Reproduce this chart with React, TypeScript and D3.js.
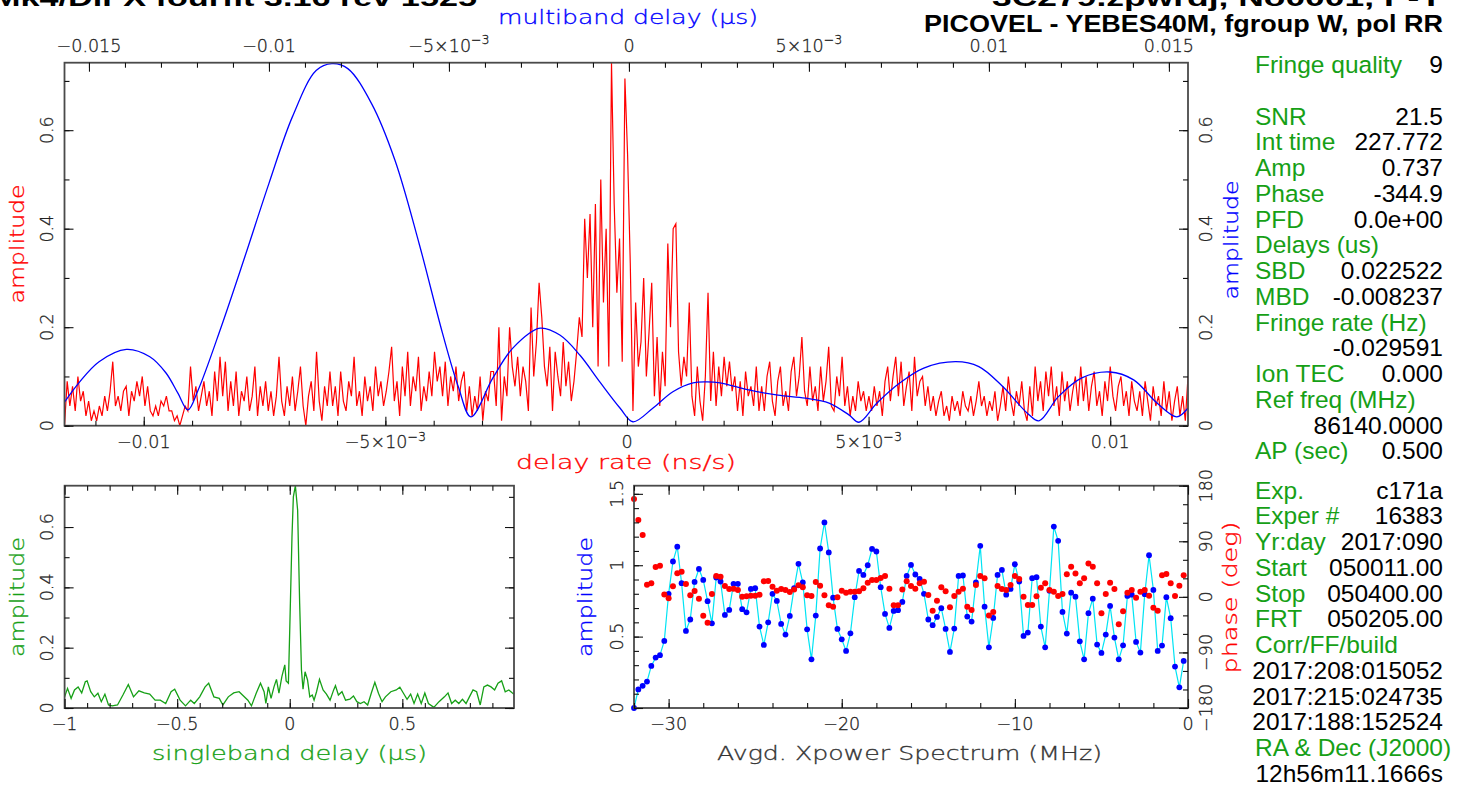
import { useEffect, useRef } from 'react'
import * as d3 from 'd3'

const W = 1462
const H = 790

// delay-rate spectrum (red), evenly sampled across the rate window (ns/s)
const rateRange = [-0.01164, 0.01161]
const rateAmp = [
  0.00, 0.09, 0.04, 0.08, 0.03, 0.10, 0.05, 0.07, 0.02, 0.05, 0.01, 0.03, 0.01, 0.04, 0.02, 0.06, 0.03, 0.07, 0.13, 0.04,
  0.06, 0.03, 0.07, 0.08, 0.02, 0.07, 0.05, 0.09, 0.06, 0.10, 0.04, 0.08, 0.03, 0.02, 0.04, 0.02, 0.05, 0.04, 0.06, 0.03,
  0.03, 0.01, 0.02, 0.00, 0.02, 0.04, 0.03, 0.12, 0.05, 0.08, 0.03, 0.06, 0.09, 0.04, 0.07, 0.02, 0.11, 0.05, 0.14, 0.06,
  0.13, 0.03, 0.09, 0.04, 0.11, 0.02, 0.07, 0.05, 0.10, 0.03, 0.06, 0.12, 0.02, 0.08, 0.04, 0.09, 0.03, 0.07, 0.02, 0.06,
  0.14, 0.05, 0.02, 0.08, 0.04, 0.10, 0.03, 0.07, 0.12, 0.04, 0.00, 0.06, 0.09, 0.03, 0.15, 0.05, 0.01, 0.08, 0.04, 0.11,
  0.04, 0.08, 0.02, 0.11, 0.05, 0.03, 0.09, 0.06, 0.14, 0.04, 0.07, 0.02, 0.10, 0.05, 0.08, 0.03, 0.12, 0.06, 0.09, 0.04,
  0.07, 0.11, 0.16, 0.05, 0.09, 0.02, 0.12, 0.06, 0.15, 0.04, 0.10, 0.07, 0.14, 0.03, 0.08, 0.05, 0.11, 0.06, 0.15, 0.09,
  0.12, 0.06, 0.13, 0.04, 0.10, 0.07, 0.12, 0.05, 0.09, 0.11, 0.03, 0.08, 0.02, 0.06, 0.03, 0.10, 0.01, 0.07, 0.05, 0.11,
  0.11, 0.04, 0.20, 0.01, 0.10, 0.06, 0.20, 0.12, 0.08, 0.14, 0.06, 0.12, 0.09, 0.03, 0.24, 0.10, 0.17, 0.29, 0.22, 0.12,
  0.08, 0.16, 0.03, 0.15, 0.10, 0.06, 0.17, 0.08, 0.13, 0.05, 0.09, 0.15, 0.22, 0.18, 0.42, 0.30, 0.43, 0.20, 0.45, 0.12,
  0.50, 0.25, 0.40, 0.12, 0.737, 0.45, 0.27, 0.38, 0.13, 0.705, 0.55, 0.33, 0.03, 0.25, 0.12, 0.17, 0.30, 0.10, 0.19, 0.29,
  0.06, 0.18, 0.04, 0.15, 0.08, 0.37, 0.20, 0.40, 0.41, 0.15, 0.08, 0.14, 0.10, 0.25, 0.06, 0.02, 0.12, 0.05, 0.01, 0.10,
  0.27, 0.05, 0.15, 0.04, 0.12, 0.06, 0.14, 0.08, 0.13, 0.07, 0.10, 0.03, 0.09, 0.02, 0.11, 0.06, 0.08, 0.04, 0.12, 0.03,
  0.08, 0.03, 0.10, 0.13, 0.05, 0.02, 0.09, 0.12, 0.04, 0.07, 0.03, 0.11, 0.14, 0.06, 0.10, 0.18, 0.07, 0.04, 0.12, 0.05,
  0.08, 0.03, 0.12, 0.05, 0.09, 0.16, 0.04, 0.03, 0.10, 0.06, 0.14, 0.04, 0.08, 0.02, 0.06, 0.03, 0.09, 0.05, 0.07, 0.03,
  0.06, 0.03, 0.08, 0.04, 0.07, 0.02, 0.09, 0.12, 0.05, 0.10, 0.14, 0.06, 0.13, 0.04, 0.08, 0.11, 0.03, 0.14, 0.06, 0.09,
  0.10, 0.04, 0.08, 0.03, 0.06, 0.02, 0.05, 0.07, 0.02, 0.04, 0.01, 0.06, 0.03, 0.05, 0.02, 0.07, 0.04, 0.03, 0.06, 0.02,
  0.05, 0.09, 0.04, 0.06, 0.02, 0.05, 0.03, 0.07, 0.01, 0.04, 0.08, 0.03, 0.10, 0.05, 0.02, 0.07, 0.04, 0.09, 0.03, 0.01,
  0.08, 0.02, 0.12, 0.05, 0.09, 0.03, 0.11, 0.06, 0.12, 0.04, 0.08, 0.02, 0.11, 0.05, 0.09, 0.03, 0.07, 0.10, 0.04, 0.12,
  0.05, 0.10, 0.03, 0.08, 0.11, 0.04, 0.07, 0.02, 0.09, 0.05, 0.12, 0.06, 0.03, 0.08, 0.10, 0.04, 0.07, 0.02, 0.09, 0.05,
  0.03, 0.07, 0.02, 0.09, 0.05, 0.01, 0.08, 0.04, 0.06, 0.02, 0.09, 0.03, 0.07, 0.01, 0.05, 0.08, 0.02, 0.06, 0.01, 0.10,
]

// multiband delay function (blue)
const mbdRange = [-0.01568, 0.01553]
const mbdDelay = [
  -0.01568, -0.01528, -0.01472, -0.01396, -0.01331, -0.01286, -0.01253, -0.01225, -0.01197, -0.01133,
  -0.01067, -0.01, -0.00935, -0.00869, -0.00825, -0.00781, -0.00715, -0.0065, -0.00583, -0.00518,
  -0.00474, -0.00439, -0.00378, -0.00322, -0.00247, -0.00192, -0.00136, -0.00081, -0.00025, 0.00011,
  0.00067, 0.00122, 0.00178, 0.00217, 0.00253, 0.00336, 0.00414, 0.0049, 0.00556, 0.00611,
  0.00639, 0.00689, 0.00753, 0.00819, 0.00908, 0.00972, 0.01039, 0.01106, 0.01139, 0.01193,
  0.01258, 0.01336, 0.01402, 0.01467, 0.01522, 0.01553,
]
const mbdAmp = [
  0.048, 0.087, 0.13, 0.155, 0.14, 0.107, 0.066, 0.032, 0.072, 0.2,
  0.343, 0.492, 0.627, 0.721, 0.735, 0.725, 0.654, 0.539, 0.37, 0.188,
  0.079, 0.018, 0.097, 0.158, 0.198, 0.184, 0.143, 0.089, 0.036, 0.008,
  0.036, 0.069, 0.087, 0.089, 0.087, 0.072, 0.062, 0.056, 0.046, 0.022,
  0.007, 0.046, 0.087, 0.117, 0.13, 0.12, 0.079, 0.026, 0.01, 0.059,
  0.097, 0.109, 0.093, 0.046, 0.018, 0.036,
]

// singleband delay function (green)
const sbdRange = [-1, 0.996]
const sbdDelay = [
  -1.0, -0.987, -0.971, -0.956, -0.94, -0.924, -0.908, -0.9, -0.884, -0.868, -0.852, -0.837, -0.821, -0.805, -0.789,
  -0.765, -0.741, -0.717, -0.694, -0.67, -0.646, -0.622, -0.598, -0.575, -0.551, -0.527, -0.511, -0.487, -0.463, -0.44,
  -0.424, -0.4, -0.376, -0.36, -0.337, -0.313, -0.297, -0.273, -0.249, -0.225, -0.21, -0.186, -0.17, -0.149, -0.13,
  -0.114, -0.106, -0.095, -0.083, -0.07, -0.059, -0.048, -0.035, -0.022, -0.016, -0.006, 0.0, 0.01, 0.016, 0.025,
  0.035, 0.044, 0.052, 0.059, 0.068, 0.079, 0.089, 0.1, 0.108, 0.119, 0.132, 0.148, 0.163, 0.179, 0.195,
  0.203, 0.216, 0.232, 0.248, 0.267, 0.283, 0.298, 0.314, 0.33, 0.346, 0.362, 0.378, 0.394, 0.41, 0.425,
  0.449, 0.473, 0.489, 0.505, 0.521, 0.537, 0.552, 0.568, 0.584, 0.6, 0.616, 0.64, 0.663, 0.687, 0.703,
  0.719, 0.735, 0.751, 0.767, 0.783, 0.798, 0.814, 0.83, 0.846, 0.862, 0.878, 0.894, 0.91, 0.925, 0.941,
  0.957, 0.973, 0.989, 0.996,
]
const sbdAmp = [
  0.037, 0.065, 0.032, 0.06, 0.07, 0.05, 0.087, 0.09, 0.054, 0.037, 0.049, 0.021, 0.046, 0.01, 0.007,
  0.01, 0.043, 0.078, 0.037, 0.057, 0.05, 0.046, 0.026, 0.026, 0.015, 0.054, 0.062, 0.026, 0.007, 0.026,
  0.015, 0.037, 0.07, 0.082, 0.037, 0.032, 0.01, 0.037, 0.05, 0.054, 0.043, 0.026, 0.007, 0.049, 0.082,
  0.054, 0.015, 0.07, 0.032, 0.07, 0.095, 0.049, 0.104, 0.143, 0.09, 0.082, 0.26, 0.57, 0.7, 0.737,
  0.656, 0.347, 0.126, 0.062, 0.12, 0.093, 0.037, 0.043, 0.026, 0.054, 0.095, 0.06, 0.046, 0.026, 0.06,
  0.074, 0.043, 0.054, 0.026, 0.029, 0.04, 0.021, 0.015, 0.021, 0.01, 0.049, 0.085, 0.049, 0.021, 0.037,
  0.054, 0.06, 0.069, 0.049, 0.029, 0.046, 0.015, 0.046, 0.015, 0.05, 0.015, 0.002, 0.021, 0.037, 0.05,
  0.015, 0.026, 0.015, 0.029, 0.015, 0.037, 0.06, 0.054, 0.01, 0.07, 0.076, 0.07, 0.06, 0.082, 0.09,
  0.054, 0.06, 0.05, 0.046,
]

// averaged cross-power spectrum, 0.25 MHz channels starting at -32 MHz
const specStart = -32
const specStep = 0.25
const specAmp = [
  0.0, 0.13, 0.155, 0.185, 0.295, 0.353, 0.37, 0.47, 0.8, 1.026,
  1.13, 0.874, 0.54, 0.62, 0.883, 0.974, 0.897, 0.748, 0.593, 0.914,
  0.886, 0.652, 0.687, 0.87, 0.87, 0.692, 0.67, 0.834, 0.839, 0.57,
  0.442, 0.6, 0.8, 0.75, 0.589, 0.514, 0.645, 0.839, 1.01, 0.879,
  0.551, 0.341, 0.647, 1.117, 1.3, 1.09, 0.773, 0.554, 0.481, 0.4,
  0.523, 0.776, 0.96, 0.932, 1.0, 1.114, 1.096, 0.846, 0.659, 0.561,
  0.68, 0.685, 0.743, 0.925, 1.002, 0.935, 0.904, 0.8, 0.62, 0.58,
  0.638, 0.699, 0.554, 0.393, 0.556, 0.925, 0.928, 0.64, 0.605, 0.879,
  1.136, 0.71, 0.425, 0.631, 0.932, 0.967, 0.794, 0.834, 1.007, 0.886,
  0.505, 0.528, 0.909, 0.916, 0.57, 0.425, 0.822, 1.271, 1.171, 0.673,
  0.521, 0.808, 0.78, 0.467, 0.341, 0.664, 0.766, 0.444, 0.386, 0.514,
  0.715, 0.493, 0.341, 0.439, 0.785, 0.794, 0.463, 0.388, 0.797, 1.07,
  0.827, 0.4, 0.437, 0.776, 0.629, 0.29, 0.145, 0.33,
]
const specPhase = [
  158.4, 124.3, 100.1, 19.7, 21.9, 48.3, 50.5, 4.0, -2.4, 17.0,
  38.1, 40.7, 20.8, 2.4, 9.4, -3.0, -30.5, -41.8, 4.6, 33.7,
  32.6, 17.5, 12.7, 13.2, 11.1, 0.3, 0.8, 1.9, 1.9, 3.5,
  25.1, 25.6, 16.5, 10.0, 12.7, 11.1, 7.8, 12.1, 18.6, 15.4,
  2.4, 1.3, 24.0, 18.1, 2.4, -13.8, -15.9, -0.8, 10.0, 6.7,
  8.4, 8.4, 8.9, 13.8, 22.9, 27.2, 27.2, 30.5, 33.7, 13.2,
  -13.8, -13.8, 12.1, 25.1, 17.5, 13.2, 21.9, 24.6, 3.0, -22.4,
  -6.2, 15.4, 8.9, -17.0, 1.3, 8.4, 13.2, -15.9, -21.3, 19.2,
  33.7, 30.0, -30.0, -24.6, 17.5, 12.7, 11.1, 19.2, 33.7, 28.9,
  0.3, -13.2, -13.2, 0.8, 14.8, 21.9, 11.1, 8.4, 1.3, 4.6,
  36.4, 48.8, 38.0, 21.9, 30.0, 54.2, 48.8, 21.9, -26.7, 4.6,
  22.9, 12.7, -44.5, -23.5, 6.7, 11.1, -1.3, 8.4, 11.1, 1.9,
  -17.5, -22.4, 34.8, 37.0, 21.9, 1.3, 18.1, 34.8,
]

// tick values and labels ("^" starts a superscript)
const rateTicks = [-0.01, -0.005, 0, 0.005, 0.01]
const rateTickLabels = ['−0.01', '−5×10^−3', '0', '5×10^−3', '0.01']
const mbdTicks = [-0.015, -0.01, -0.005, 0, 0.005, 0.01, 0.015]
const mbdTickLabels = ['−0.015', '−0.01', '−5×10^−3', '0', '5×10^−3', '0.01', '0.015']
const ampTicks = [0, 0.2, 0.4, 0.6]
const ampTickLabels = ['0', '0.2', '0.4', '0.6']
const sbdTicks = [-1, -0.5, 0, 0.5]
const sbdTickLabels = ['−1', '−0.5', '0', '0.5']
const freqTicks = [-30, -20, -10, 0]
const freqTickLabels = ['−30', '−20', '−10', '0']
const specAmpTicks = [0, 0.5, 1, 1.5]
const specAmpTickLabels = ['0', '0.5', '1', '1.5']
const phaseTicks = [-180, -90, 0, 90, 180]
const phaseTickLabels = ['−180', '−90', '0', '90', '180']

// fringe summary text
const infoLabels = ['Fringe quality', '', 'SNR', 'Int time', 'Amp', 'Phase', 'PFD', 'Delays (us)', 'SBD', 'MBD',
  'Fringe rate (Hz)', '', 'Ion TEC', 'Ref freq (MHz)', '', 'AP (sec)']
const infoValues = ['9', '', '21.5', '227.772', '0.737', '-344.9', '0.0e+00', '', '0.022522', '-0.008237',
  '', '-0.029591', '0.000', '', '86140.0000', '0.500']
const runLabels = ['Exp.', 'Exper #', 'Yr:day', 'Start', 'Stop', 'FRT', 'Corr/FF/build', '', '', '', 'RA & Dec (J2000)', '']
const runValues = ['c171a', '16383', '2017:090', '050011.00', '050400.00', '050205.00', '',
  '2017:208:015052', '2017:215:024735', '2017:188:152524', '', '12h56m11.1666s']

const titleLeft = 'Mk4/DiFX fourfit 3.16 rev 1525'
const titleRight1 = '3C279.zpwrdj, No0001, P-Y'
const titleRight2 = 'PICOVEL - YEBES40M, fgroup W, pol RR'

const PG = "'DejaVu Sans', sans-serif"
const HV = "'Liberation Sans', Arial, sans-serif"
const RED = '#ff0000'
const BLUE = '#0000ff'
const GREEN = '#16a016'
const INK = '#222'

type G = d3.Selection<SVGGElement, unknown, null, undefined>

function pgText(g: G, x: number, y: number, txt: string, size: number, color: string,
  opts: { rotate?: boolean; len?: number } = {}) {
  const t = g.append('text')
    .attr('transform', opts.rotate ? `translate(${x},${y}) rotate(-90)` : `translate(${x},${y})`)
    .attr('text-anchor', 'middle')
    .attr('font-family', PG).attr('font-weight', 200)
    .attr('font-size', size).attr('fill', color)
    .attr('stroke', color).attr('stroke-width', 0.3)
  const [base, sup] = txt.split('^')
  t.append('tspan').text(base)
  if (sup) t.append('tspan').attr('dy', -size * 0.42).attr('font-size', size * 0.72).text(sup)
  if (opts.len) t.attr('textLength', opts.len).attr('lengthAdjust', 'spacingAndGlyphs')
  return t
}

function ticks(g: G, scale: d3.ScaleLinear<number, number>, side: string, values: number[], len: number, at: number) {
  const axis = side === 'bottom' ? d3.axisBottom(scale) : side === 'top' ? d3.axisTop(scale)
    : side === 'left' ? d3.axisLeft(scale) : d3.axisRight(scale)
  axis.tickValues(values).tickSizeInner(-len).tickSizeOuter(0).tickFormat(() => '')
  const tr = side === 'bottom' || side === 'top' ? `translate(0,${at})` : `translate(${at},0)`
  const a = g.append('g').attr('transform', tr).call(axis as any)
  a.select('.domain').remove()
  a.selectAll('text').remove()
  a.selectAll('line').attr('stroke', '#111').attr('stroke-width', 1.1)
}

function frame(g: G, l: number, r: number, t: number, b: number) {
  g.append('rect').attr('x', l).attr('y', t).attr('width', r - l).attr('height', b - t)
    .attr('fill', 'none').attr('stroke', '#4a4a4a').attr('stroke-width', 1.8)
}

const steps = (a: number, b: number, s: number) => d3.range(Math.round(a / s), Math.round(b / s) + 1).map(i => i * s)

export default function App() {
  const svgRef = useRef<SVGSVGElement>(null)

  useEffect(() => {
    if (!svgRef.current) return
    const svg = d3.select(svgRef.current)
    svg.selectAll('*').remove()
    const root = svg.append('g') as G
    const TL = 17.5 // tick label size
    const AT = 19 // axis title size

    // ---------- main panel: delay rate / multiband delay ----------
    const M = { l: 64.5, r: 1188, t: 62.7, b: 425.7 }
    const xRate = d3.scaleLinear().domain(rateRange).range([M.l, M.r])
    const xMbd = d3.scaleLinear().domain(mbdRange).range([M.l, M.r])
    const yMain = d3.scaleLinear().domain([0, 0.737]).range([M.b, M.t])

    svg.append('defs').append('clipPath').attr('id', 'clip-main')
      .append('rect').attr('x', M.l).attr('y', M.t - 1).attr('width', M.r - M.l).attr('height', M.b - M.t + 1)

    const rateStep = (rateRange[1] - rateRange[0]) / (rateAmp.length - 1)
    const redLine = d3.line<number>()
      .x((_, i) => xRate(rateRange[0] + i * rateStep))
      .y(d => yMain(d))
    root.append('path').datum(rateAmp)
      .attr('clip-path', 'url(#clip-main)')
      .attr('fill', 'none').attr('stroke', RED).attr('stroke-width', 1.2).attr('d', redLine)

    const blueLine = d3.line<number>()
      .x((_, i) => xMbd(mbdDelay[i]))
      .y(d => yMain(d))
      .curve(d3.curveCatmullRom.alpha(0.5))
    root.append('path').datum(mbdAmp)
      .attr('clip-path', 'url(#clip-main)')
      .attr('fill', 'none').attr('stroke', BLUE).attr('stroke-width', 1.3).attr('d', blueLine)

    frame(root, M.l, M.r, M.t, M.b)
    ticks(root, xRate, 'bottom', steps(-0.011, 0.011, 0.001), 5, M.b)
    ticks(root, xRate, 'bottom', rateTicks, 9, M.b)
    ticks(root, xMbd, 'top', steps(-0.015, 0.015, 0.001), 5, M.t)
    ticks(root, xMbd, 'top', mbdTicks, 9, M.t)
    ticks(root, yMain, 'left', steps(0, 0.7, 0.1), 5, M.l)
    ticks(root, yMain, 'left', ampTicks, 9, M.l)
    ticks(root, yMain, 'right', steps(0, 0.7, 0.1), 5, M.r)
    ticks(root, yMain, 'right', ampTicks, 9, M.r)

    mbdTicks.forEach((v, i) => pgText(root, xMbd(v), 51.5, mbdTickLabels[i], TL, INK))
    rateTicks.forEach((v, i) => pgText(root, xRate(v), 448, rateTickLabels[i], TL, INK))
    ampTicks.forEach((v, i) => {
      pgText(root, 53, yMain(v), ampTickLabels[i], TL, INK, { rotate: true })
      pgText(root, 1212, yMain(v), ampTickLabels[i], TL, INK, { rotate: true })
    })
    pgText(root, 628, 23.5, 'multiband delay (μs)', AT, BLUE, { len: 260 })
    pgText(root, 626, 469, 'delay rate (ns/s)', AT, RED, { len: 220 })
    pgText(root, 24, 244, 'amplitude', AT, RED, { rotate: true, len: 119 })
    pgText(root, 1238, 240, 'amplitude', AT, BLUE, { rotate: true, len: 119 })

    // ---------- singleband delay panel ----------
    const S = { l: 64.6, r: 514, t: 485.7, b: 708 }
    const xSbd = d3.scaleLinear().domain(sbdRange).range([S.l, S.r])
    const ySbd = d3.scaleLinear().domain([0, 0.737]).range([S.b, S.t])
    const greenLine = d3.line<number>().x((_, i) => xSbd(sbdDelay[i])).y(d => ySbd(d))
    root.append('path').datum(sbdAmp)
      .attr('fill', 'none').attr('stroke', GREEN).attr('stroke-width', 1.3).attr('d', greenLine)

    frame(root, S.l, S.r, S.t, S.b)
    ticks(root, xSbd, 'bottom', steps(-0.9, 0.9, 0.1), 5, S.b)
    ticks(root, xSbd, 'bottom', sbdTicks, 9, S.b)
    ticks(root, xSbd, 'top', steps(-0.9, 0.9, 0.1), 5, S.t)
    ticks(root, xSbd, 'top', sbdTicks, 9, S.t)
    ticks(root, ySbd, 'left', steps(0, 0.7, 0.1), 5, S.l)
    ticks(root, ySbd, 'left', ampTicks, 9, S.l)
    ticks(root, ySbd, 'right', steps(0, 0.7, 0.1), 5, S.r)
    ticks(root, ySbd, 'right', ampTicks, 9, S.r)

    sbdTicks.forEach((v, i) => pgText(root, xSbd(v), 730, sbdTickLabels[i], TL, INK))
    ampTicks.forEach((v, i) => pgText(root, 53, ySbd(v), ampTickLabels[i], TL, INK, { rotate: true }))
    pgText(root, 289.5, 760, 'singleband delay (μs)', AT, GREEN, { len: 275 })
    pgText(root, 24, 597, 'amplitude', AT, GREEN, { rotate: true, len: 120 })

    // ---------- cross-power spectrum panel ----------
    const P = { l: 634, r: 1188, t: 485.7, b: 708 }
    const xFreq = d3.scaleLinear().domain([-32, 0]).range([P.l, P.r])
    const ySpec = d3.scaleLinear().domain([0, 1.557]).range([P.b, P.t])
    const yPhase = d3.scaleLinear().domain([-180, 180]).range([P.b, P.t])
    const freqOf = (i: number) => specStart + i * specStep

    const cyanLine = d3.line<number>().x((_, i) => xFreq(freqOf(i))).y(d => ySpec(d))
    root.append('path').datum(specAmp)
      .attr('fill', 'none').attr('stroke', '#00e4f4').attr('stroke-width', 1.2).attr('d', cyanLine)
    root.append('g').selectAll('circle').data(specAmp).join('circle')
      .attr('cx', (_, i) => xFreq(freqOf(i))).attr('cy', d => ySpec(d)).attr('r', 2.9)
      .attr('fill', BLUE)
    root.append('g').selectAll('circle').data(specPhase).join('circle')
      .attr('cx', (_, i) => xFreq(freqOf(i))).attr('cy', d => yPhase(d)).attr('r', 3)
      .attr('fill', RED)

    frame(root, P.l, P.r, P.t, P.b)
    ticks(root, xFreq, 'bottom', steps(-32, 0, 2), 5, P.b)
    ticks(root, xFreq, 'bottom', freqTicks, 9, P.b)
    ticks(root, xFreq, 'top', steps(-32, 0, 2), 5, P.t)
    ticks(root, xFreq, 'top', freqTicks, 9, P.t)
    ticks(root, ySpec, 'left', steps(0, 1.5, 0.1), 5, P.l)
    ticks(root, ySpec, 'left', specAmpTicks, 9, P.l)
    ticks(root, yPhase, 'right', steps(-180, 180, 30), 5, P.r)
    ticks(root, yPhase, 'right', phaseTicks, 9, P.r)

    freqTicks.forEach((v, i) => pgText(root, xFreq(v), 730, freqTickLabels[i], TL, INK))
    specAmpTicks.forEach((v, i) => pgText(root, 622.5, ySpec(v), specAmpTickLabels[i], TL, INK, { rotate: true }))
    phaseTicks.forEach((v, i) => pgText(root, 1212, yPhase(v), phaseTickLabels[i], TL, INK, { rotate: true }))
    pgText(root, 909.5, 760, 'Avgd. Xpower Spectrum (MHz)', AT, '#333', { len: 385 })
    pgText(root, 592, 597, 'amplitude', AT, BLUE, { rotate: true, len: 120 })
    pgText(root, 1237, 597.5, 'phase (deg)', AT, RED, { rotate: true, len: 152 })

    // ---------- header (top line runs off the page, as in the original) ----------
    root.append('text').attr('x', 477).attr('y', 5.5).attr('text-anchor', 'end')
      .attr('font-family', HV).attr('font-weight', 700).attr('font-size', 23.5).attr('fill', '#000')
      .attr('textLength', 485).attr('lengthAdjust', 'spacingAndGlyphs').text(titleLeft)
    root.append('text').attr('x', 1443).attr('y', 5.5).attr('text-anchor', 'end')
      .attr('font-family', HV).attr('font-weight', 700).attr('font-size', 23.5).attr('fill', '#000')
      .attr('textLength', 451).attr('lengthAdjust', 'spacingAndGlyphs').text(titleRight1)
    root.append('text').attr('x', 1443).attr('y', 31.5).attr('text-anchor', 'end')
      .attr('font-family', HV).attr('font-weight', 700).attr('font-size', 23.5).attr('fill', '#000')
      .attr('textLength', 519).attr('lengthAdjust', 'spacingAndGlyphs').text(titleRight2)

    // ---------- fringe summary ----------
    const info = root.append('g').attr('font-family', HV).attr('font-size', 24.5)
    const rowH = 25.75
    const writeRows = (labels: string[], values: string[], y0: number) => {
      labels.forEach((lab, i) => {
        const y = y0 + i * rowH
        if (lab) info.append('text').attr('x', 1255).attr('y', y).attr('fill', GREEN).text(lab)
        if (values[i]) info.append('text').attr('x', 1443).attr('y', y)
          .attr('text-anchor', 'end').attr('fill', '#000').text(values[i])
      })
    }
    writeRows(infoLabels, infoValues, 73)
    writeRows(runLabels, runValues, 498.5)
  }, [])

  return (
    <svg ref={svgRef} width={W} height={H}
      style={{ position: 'absolute', left: 0, top: 0, background: '#fff', display: 'block' }} />
  )
}
